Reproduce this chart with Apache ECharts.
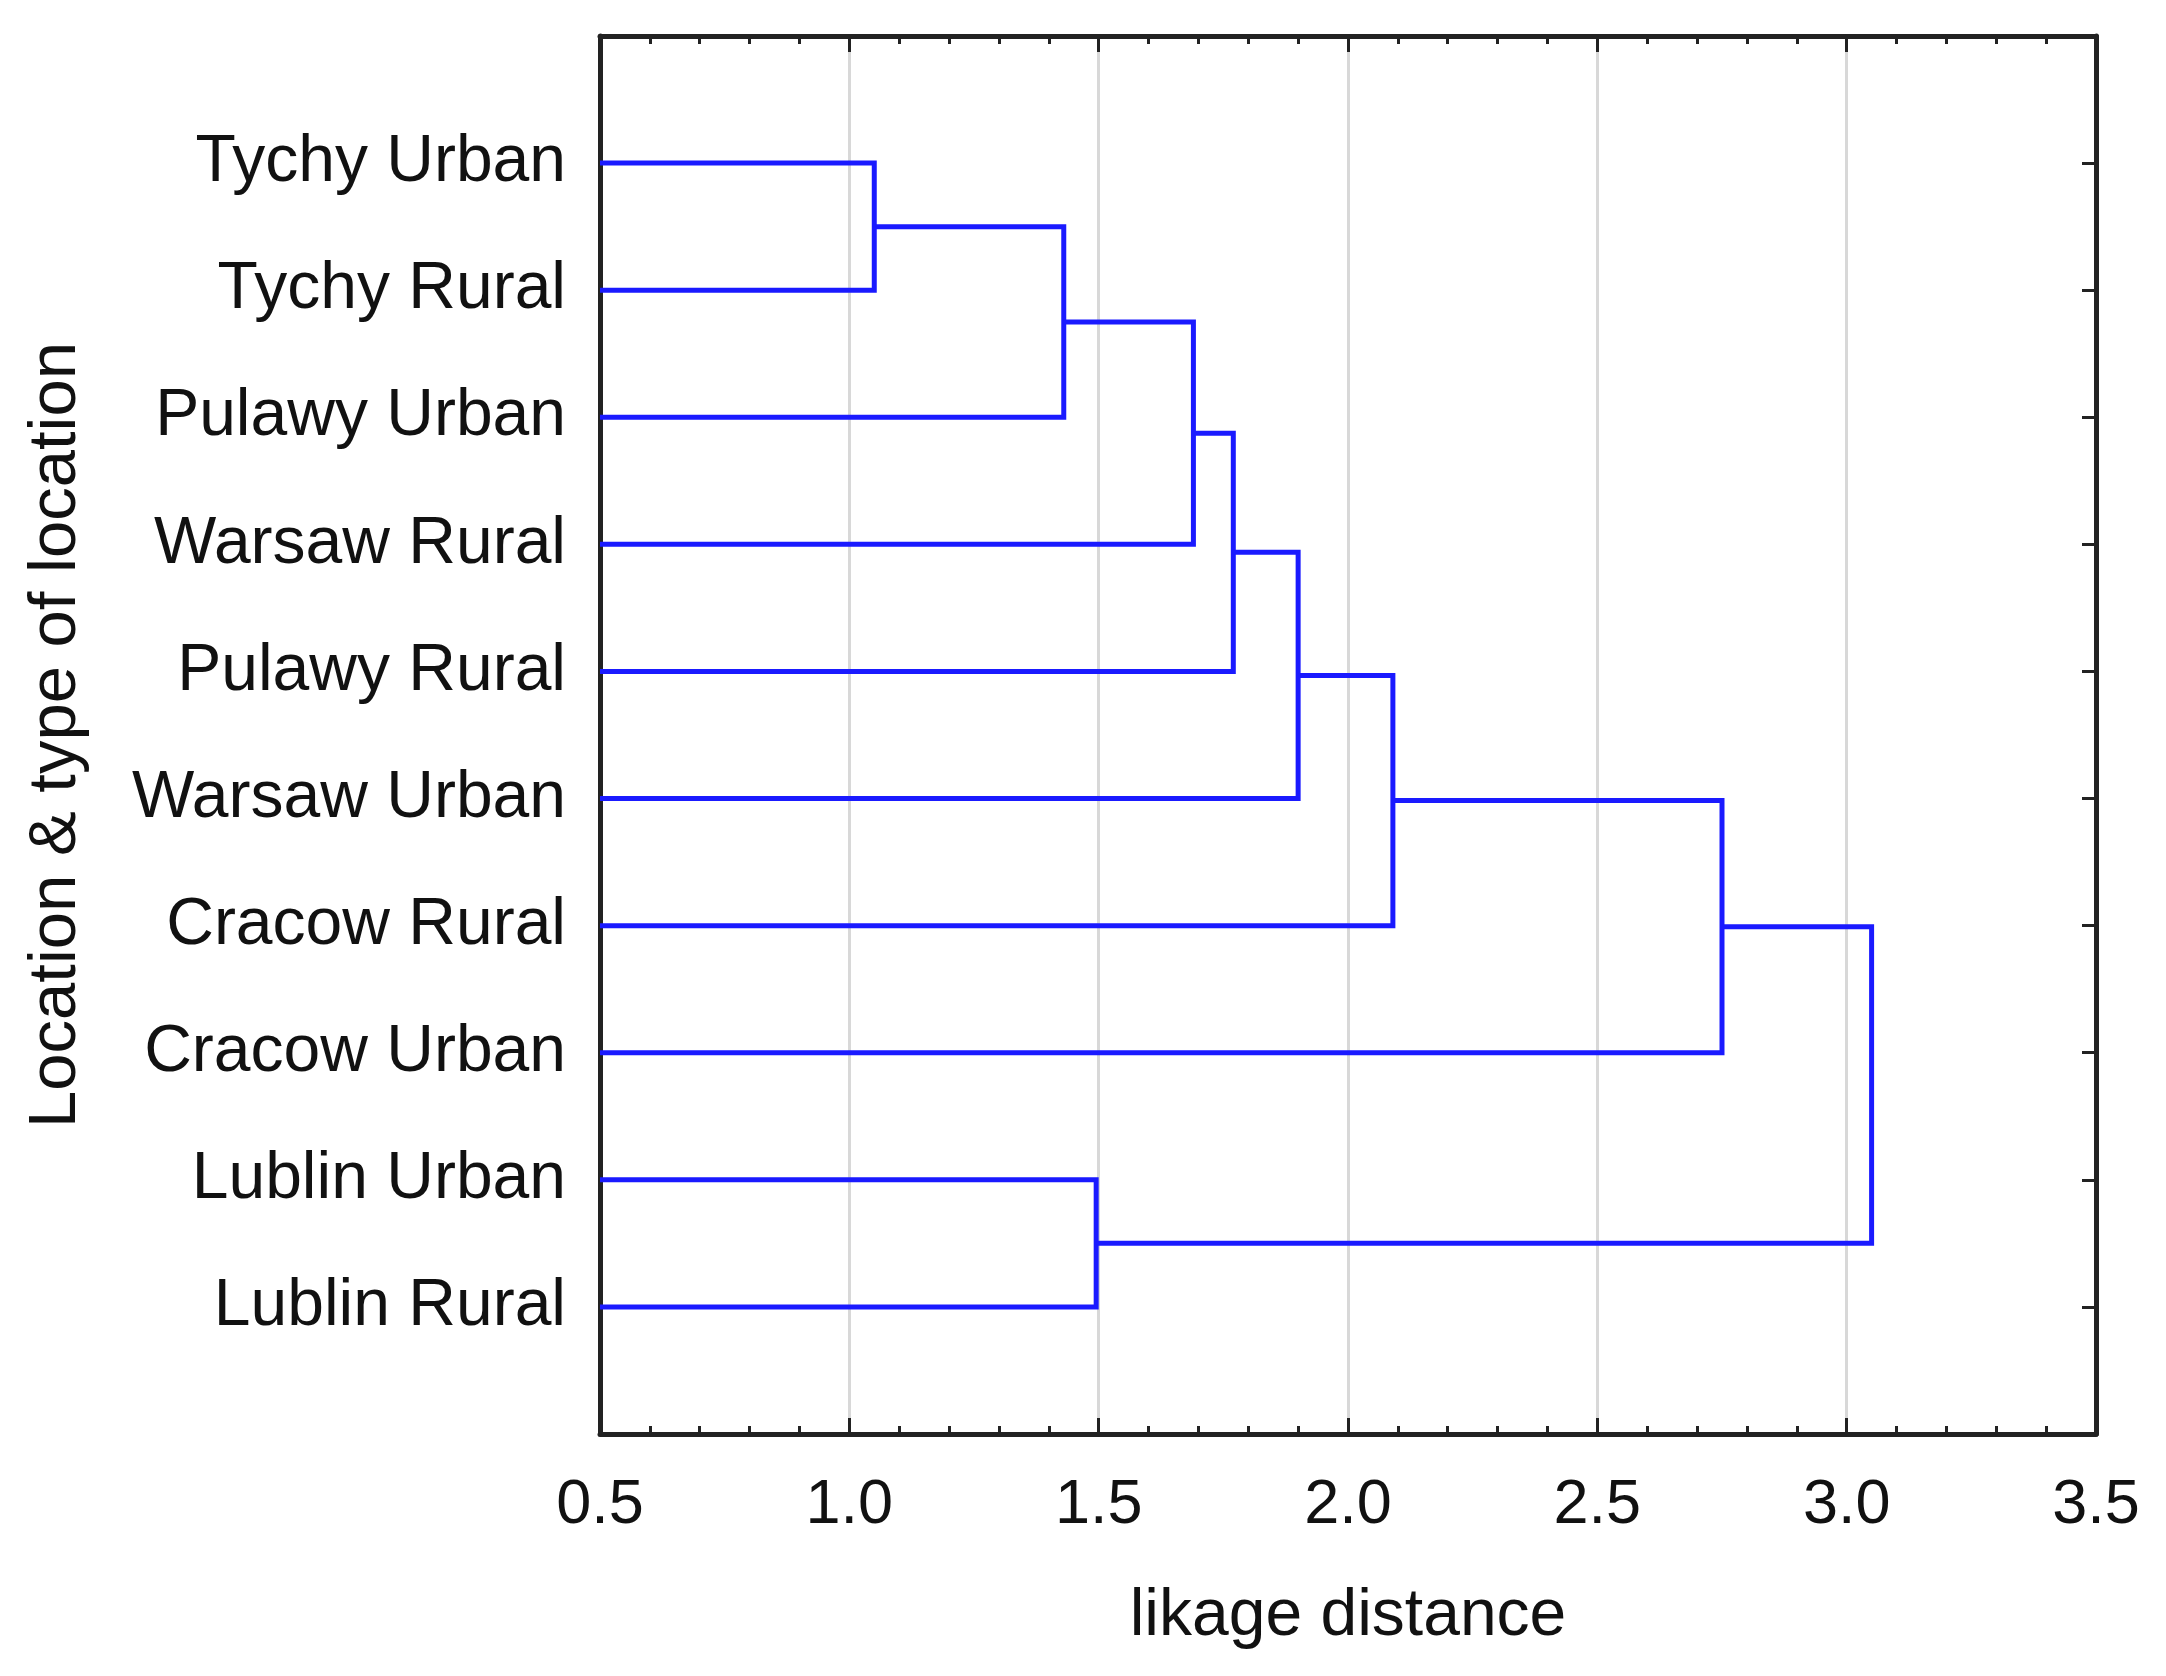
<!DOCTYPE html>
<html>
<head>
<meta charset="utf-8">
<title>Dendrogram</title>
<script src="https://cdn.jsdelivr.net/npm/echarts@6/dist/echarts.min.js"></script>
<style>
  html, body { margin: 0; padding: 0; background: #fff; }
  #chart { width: 2166px; height: 1676px; }
</style>
</head>
<body>
<div id="chart"></div>
<script>
// leaves, top to bottom
var leafNames = ["Tychy Urban", "Tychy Rural", "Pulawy Urban", "Warsaw Rural", "Pulawy Rural",
  "Warsaw Urban", "Cracow Rural", "Cracow Urban", "Lublin Urban", "Lublin Rural"];
// merges: ids 0..9 are leaves, merge k gets id 10+k
var mergeA = [0, 10, 11, 12, 13, 14, 15, 8, 16];
var mergeB = [1, 2, 3, 4, 5, 6, 7, 9, 17];
var mergeDist = [1.05, 1.43, 1.69, 1.77, 1.90, 2.09, 2.75, 1.495, 3.05];
var xTicks = [0.5, 1.0, 1.5, 2.0, 2.5, 3.0, 3.5];

var xMin = 0.5, xMax = 3.5;

// node position: [distance, row]
var nodeX = [], nodeY = [];
leafNames.forEach(function (n, i) { nodeX.push(xMin); nodeY.push(i + 1); });
var links = [];
for (var k = 0; k < mergeA.length; k++) {
  var a = mergeA[k], b = mergeB[k], h = mergeDist[k];
  links.push({
    coords: [[nodeX[a], nodeY[a]], [h, nodeY[a]], [h, nodeY[b]], [nodeX[b], nodeY[b]]]
  });
  nodeX.push(h);
  nodeY.push((nodeY[a] + nodeY[b]) / 2);
}

var font = "Liberation Sans, Arial, sans-serif";
var frame = { show: true, onZero: false, lineStyle: { color: "#222", width: 5 } };
var tick = { show: true, inside: true, length: 16, lineStyle: { color: "#222", width: 3 } };
var minor = { show: true, splitNumber: 5, length: 8, lineStyle: { color: "#222", width: 3 } };

var chart = echarts.init(document.getElementById("chart"));
chart.setOption({
  animation: false,
  backgroundColor: "#fff",
  grid: { left: 600, right: 70, top: 36, bottom: 242, containLabel: false },
  xAxis: [{
    type: "value", position: "bottom", min: xMin, max: xMax, interval: 0.5,
    name: "likage distance", nameLocation: "middle", nameGap: 150,
    nameTextStyle: { fontSize: 66, color: "#111", fontFamily: font },
    axisLine: frame, axisTick: tick, minorTick: minor,
    splitLine: { show: true, lineStyle: { color: "#d8d8d8", width: 3 } },
    axisLabel: {
      fontSize: 63, color: "#111", fontFamily: font, margin: 40,
      formatter: function (v) { return xTicks.indexOf(v) >= 0 ? v.toFixed(1) : ""; }
    }
  }, {
    type: "value", position: "top", min: xMin, max: xMax, interval: 0.5,
    axisLine: frame, axisTick: tick, minorTick: minor,
    splitLine: { show: false },
    axisLabel: { show: false }
  }],
  yAxis: [{
    type: "value", position: "left", min: 0, max: leafNames.length + 1, interval: 1, inverse: true,
    name: "Location & type of location", nameLocation: "middle", nameGap: 510, nameRotate: 90,
    nameTextStyle: { fontSize: 67, color: "#111", fontFamily: font },
    axisLine: frame,
    axisTick: { show: true, inside: true, length: 14, lineStyle: { color: "#222", width: 3 } },
    splitLine: { show: false },
    axisLabel: {
      fontSize: 66, color: "#111", fontFamily: font, margin: 34,
      formatter: function (v) { return leafNames[v - 1] || ""; }
    }
  }, {
    type: "value", position: "right", min: 0, max: leafNames.length + 1, interval: 1, inverse: true,
    axisLine: frame,
    axisTick: { show: true, inside: true, length: 14, lineStyle: { color: "#222", width: 3 } },
    splitLine: { show: false },
    axisLabel: { show: false }
  }],
  series: [{
    type: "lines",
    coordinateSystem: "cartesian2d",
    polyline: true,
    silent: true,
    z: 3,
    lineStyle: { color: "#1a1aff", width: 5, opacity: 1 },
    data: links
  }]
});
</script>
</body>
</html>
